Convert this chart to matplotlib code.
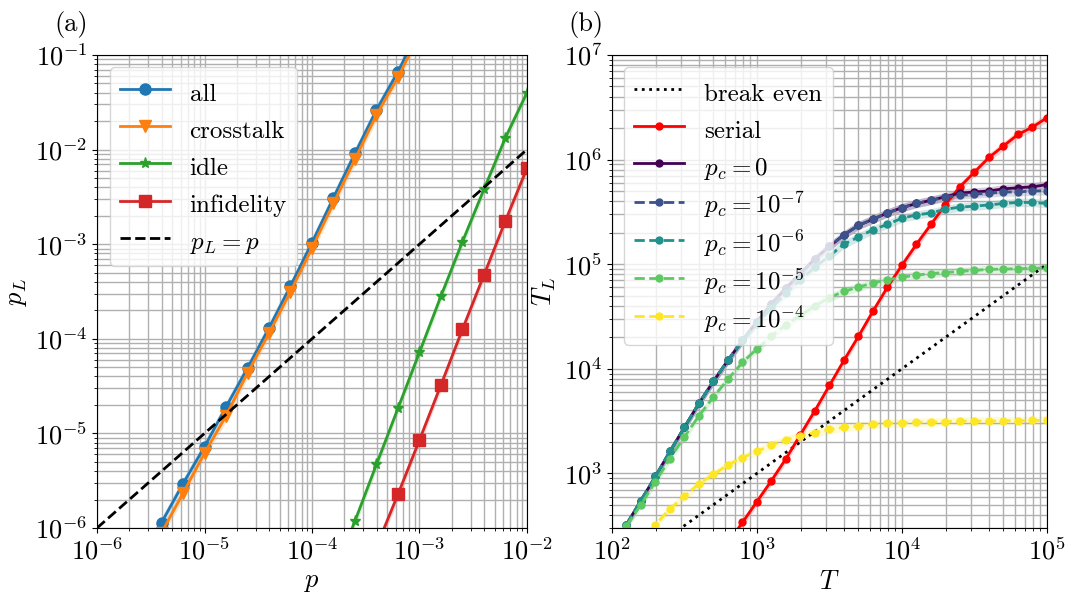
import numpy as np
import matplotlib
matplotlib.use("Agg")
import matplotlib.pyplot as plt

plt.rcParams['font.family'] = 'serif'
plt.rcParams['font.serif'] = ['cmr10']
plt.rcParams['mathtext.fontset'] = 'cm'
plt.rcParams['axes.formatter.use_mathtext'] = True
plt.rcParams['font.size'] = 19

# ---- panel (a): logical error rate vs physical error rate (log10 values) ----
p_all_exp = [-5.4, -5.2, -5.0, -4.8, -4.6, -4.4, -4.2, -4.0, -3.8, -3.6, -3.4, -3.2, -3.0]
pl_all = [-5.944, -5.532, -5.141, -4.721, -4.309, -3.886, -3.442, -2.984, -2.508, -2.039, -1.581, -1.177, -0.72]
pl_cross = [-6.05, -5.633, -5.210, -4.816, -4.362, -3.942, -3.502, -3.043, -2.568, -2.103, -1.634, -1.236, -0.78]

p_idle_exp = [-3.8, -3.6, -3.4, -3.2, -3.0, -2.8, -2.6, -2.4, -2.2, -2.0]
pl_idle = [-6.5, -5.926, -5.327, -4.735, -4.143, -3.548, -2.974, -2.420, -1.874, -1.399]

p_inf_exp = [-3.4, -3.2, -3.0, -2.8, -2.6, -2.4, -2.2, -2.0]
pl_inf = [-6.2, -5.644, -5.070, -4.488, -3.900, -3.326, -2.752, -2.198]

band_a = 0.06  # half width of the shaded band, decades

# ---- panel (b): logical lifetime vs T (log10 values) ----
T_serial_exp = [2.8, 2.9, 3.0, 3.1, 3.2, 3.3, 3.4, 3.5, 3.6, 3.7, 3.8, 3.9, 4.0,
                4.1, 4.2, 4.3, 4.4, 4.5, 4.6, 4.7, 4.8, 4.9, 5.0]
TL_serial = [2.33, 2.53, 2.73, 2.93, 3.14, 3.37, 3.60, 3.84, 4.08, 4.31, 4.55, 4.78, 4.99,
             5.19, 5.38, 5.57, 5.74, 5.88, 6.02, 6.13, 6.24, 6.31, 6.40]

T_exp = [2.1, 2.2, 2.3, 2.4, 2.5, 2.6, 2.7, 2.8, 2.9, 3.0, 3.1, 3.2, 3.3, 3.4, 3.5,
         3.6, 3.7, 3.8, 3.9, 4.0, 4.1, 4.2, 4.3, 4.4, 4.5, 4.6, 4.7, 4.8, 4.9, 5.0]
TL_pc0 = [2.51, 2.74, 2.97, 3.21, 3.44, 3.67, 3.88, 4.08, 4.27, 4.45, 4.62, 4.77, 4.91, 5.05, 5.17,
          5.28, 5.37, 5.43, 5.49, 5.54, 5.58, 5.61, 5.645, 5.68, 5.69, 5.70, 5.72, 5.73, 5.74, 5.76]
TL_pc7 = [2.51, 2.74, 2.97, 3.21, 3.44, 3.67, 3.88, 4.08, 4.27, 4.45, 4.62, 4.77, 4.91, 5.05, 5.17,
          5.28, 5.37, 5.43, 5.49, 5.54, 5.58, 5.61, 5.64, 5.66, 5.67, 5.68, 5.69, 5.69, 5.70, 5.70]
TL_pc6 = [2.51, 2.74, 2.97, 3.21, 3.44, 3.67, 3.88, 4.08, 4.27, 4.43, 4.58, 4.72, 4.85, 4.97, 5.08,
          5.19, 5.26, 5.33, 5.38, 5.44, 5.47, 5.49, 5.525, 5.545, 5.555, 5.566, 5.58, 5.59, 5.59, 5.58]
TL_pc5 = [2.50, 2.70, 2.92, 3.14, 3.35, 3.55, 3.73, 3.90, 4.06, 4.19, 4.31, 4.42, 4.51, 4.60, 4.68,
          4.74, 4.78, 4.82, 4.85, 4.875, 4.895, 4.91, 4.92, 4.93, 4.94, 4.95, 4.953, 4.956, 4.96, 4.965]
T_pc4_exp = T_exp[1:]
TL_pc4 = [2.33, 2.51, 2.66, 2.78, 2.90, 2.99, 3.08, 3.15, 3.21, 3.27, 3.32, 3.36, 3.39, 3.42,
          3.44, 3.453, 3.469, 3.478, 3.485, 3.488, 3.49, 3.495, 3.50, 3.50, 3.50, 3.503, 3.503, 3.506, 3.506]

band_b = 0.04

vir = plt.cm.viridis
pc_series = [
    (T_exp, TL_pc0, '$p_c = 0$', vir(0.0), '-'),
    (T_exp, TL_pc7, '$p_c = 10^{-7}$', vir(0.25), '--'),
    (T_exp, TL_pc6, '$p_c = 10^{-6}$', vir(0.5), '--'),
    (T_exp, TL_pc5, '$p_c = 10^{-5}$', vir(0.75), '--'),
    (T_pc4_exp, TL_pc4, '$p_c = 10^{-4}$', vir(1.0), '--'),
]


def pw(a):
    return 10.0 ** np.asarray(a)


fig = plt.figure(figsize=(10.65, 5.93), dpi=100)
ax1 = fig.add_axes([0.0911, 0.1096, 0.4037, 0.7977])
ax2 = fig.add_axes([0.5746, 0.1096, 0.4085, 0.7977])

# panel (a)
left_series = [
    (p_all_exp, pl_all, 'all', 'C0', 'o'),
    (p_all_exp, pl_cross, 'crosstalk', 'C1', 'v'),
    (p_idle_exp, pl_idle, 'idle', 'C2', '*'),
    (p_inf_exp, pl_inf, 'infidelity', 'C3', 's'),
]
for xs, ys, lab, col, mk in left_series:
    x = pw(xs)
    y = np.asarray(ys)
    ax1.fill_between(x, pw(y - band_a), pw(y + band_a), color=col, alpha=0.2, lw=0)
    ax1.plot(x, pw(y), color=col, marker=mk, ms=8, lw=2, label=lab)
ax1.plot([1e-6, 1e-2], [1e-6, 1e-2], 'k--', lw=2, label='$p_L = p$')
ax1.set_xscale('log')
ax1.set_yscale('log')
ax1.set_xlim(1e-6, 1e-2)
ax1.set_ylim(1e-6, 1e-1)
ax1.grid(True, which='both', color='#b0b0b0', lw=1)
ax1.set_xlabel('$p$')
ax1.set_ylabel('$p_L$')
ax1.legend(loc='upper left', fontsize=18, handleheight=1.45, labelspacing=0.3)
ax1.text(-0.02, 1.035, '(a)', transform=ax1.transAxes, ha='right', va='bottom')

# panel (b)
ax2.plot([1e2, 1e5], [1e2, 1e5], 'k:', lw=2, label='break even')
x = pw(T_serial_exp)
y = np.asarray(TL_serial)
ax2.fill_between(x, pw(y - band_b), pw(y + band_b), color='red', alpha=0.2, lw=0)
ax2.plot(x, pw(y), color='red', marker='o', ms=5, lw=2, label='serial')
for xs, ys, lab, col, ls in pc_series:
    x = pw(xs)
    y = np.asarray(ys)
    ax2.fill_between(x, pw(y - band_b), pw(y + band_b), color=col, alpha=0.2, lw=0)
    ax2.plot(x, pw(y), color=col, ls=ls, marker='o', ms=5, lw=2, label=lab)
ax2.set_xscale('log')
ax2.set_yscale('log')
ax2.set_xlim(1e2, 1e5)
ax2.set_ylim(300, 1e7)
ax2.grid(True, which='both', color='#b0b0b0', lw=1)
ax2.set_xlabel('$T$')
ax2.set_ylabel('$T_L$')
ax2.legend(loc='upper left', fontsize=18, handleheight=1.45, labelspacing=0.3)
ax2.text(-0.02, 1.035, '(b)', transform=ax2.transAxes, ha='right', va='bottom')

fig.savefig('out.png', dpi=100)
